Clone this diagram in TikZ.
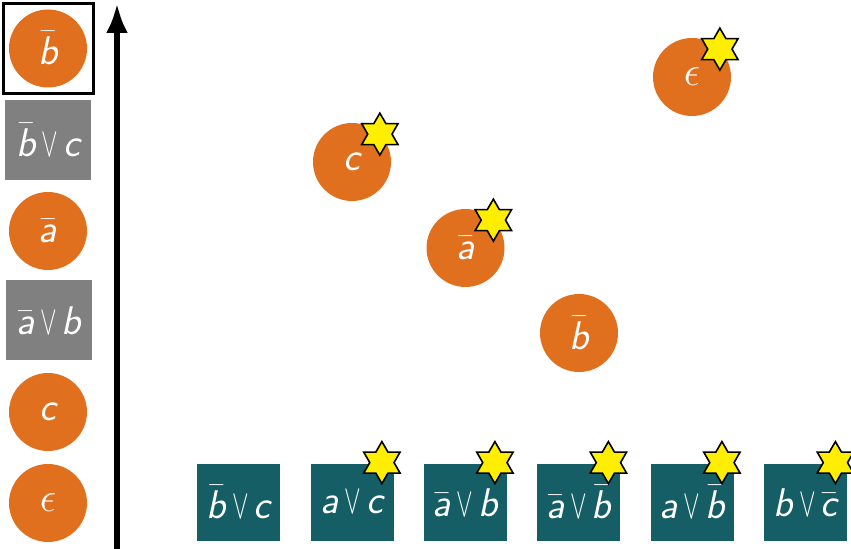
\documentclass[tikz,border=0pt]{standalone}
\usepackage{graphicx}
\usetikzlibrary{shapes.geometric,arrows.meta}
\definecolor{orng}{RGB}{224,112,30}
\definecolor{tealbox}{RGB}{22,94,102}
\definecolor{graybox}{RGB}{128,128,128}
\definecolor{staryel}{RGB}{255,238,0}
\newcommand\sv[1]{\mbox{\sffamily\slshape #1}}
\newcommand\orv{\mathord{\kern3pt\scalebox{0.6}[1]{$\vee$}\kern2.5pt}}
\tikzset{
  lbl/.style={text=white, font=\fontsize{20}{24}\selectfont},
  ball/.style={lbl, circle, fill=orng, minimum size=39pt, inner sep=0pt},
  gbox/.style={lbl, rectangle, fill=graybox, minimum width=43pt, minimum height=40pt, inner sep=0pt},
  tbox/.style={lbl, rectangle, fill=tealbox, minimum width=41.5pt, minimum height=38.5pt, inner sep=0pt},
  frame/.style={rectangle, draw=black, line width=1.5pt, minimum size=45.3pt, inner sep=0pt},
  starmark/.style={star, star points=6, star point ratio=1.73, fill=staryel, draw=black, line width=0.8pt, minimum size=21pt, inner sep=0pt},
  axisarrow/.style={line width=3pt, -{Latex[length=15pt,width=11pt]}}
}
\begin{document}
\begin{tikzpicture}[x=0.5pt,y=-0.5pt]
\useasboundingbox (0,0) rectangle (851,549);
% left column
\node[ball] (lb) at (48,48.5) {$\bar{\sv{b}}$};
\node[frame] (fr) at (48.5,48.5) {};
\node[gbox] (lg1) at (48,140) {$\bar{\sv{b}}\orv\sv{c}$};
\node[ball] (la) at (48,231) {$\bar{\sv{a}}$};
\node[gbox] (lg2) at (48.5,320.5) {$\bar{\sv{a}}\orv\sv{b}$};
\node[ball] (lc) at (48,412) {$\sv{c}$};
\node[ball] (le) at (48,503) {$\epsilon$};
% axis
\coordinate (abot) at (117,549);
\coordinate (atop) at (117,3);
\draw[axisarrow] (abot) -- (atop);
% main circles
\node[ball] (mc) at (352,162) {$\sv{c}$};
\node[ball] (ma) at (465.5,248) {$\bar{\sv{a}}$};
\node[ball] (mb) at (579,333) {$\bar{\sv{b}}$};
\node[ball] (me) at (692,77) {$\epsilon$};
% bottom boxes
\node[tbox] (b1) at (238.5,502.5) {$\bar{\sv{b}}\orv\sv{c}$};
\node[tbox] (b2) at (352,502.5) {$\sv{a}\orv\sv{c}$};
\node[tbox] (b3) at (465,502.5) {$\bar{\sv{a}}\orv\sv{b}$};
\node[tbox] (b4) at (578.5,502.5) {$\bar{\sv{a}}\orv\bar{\sv{b}}$};
\node[tbox] (b5) at (692,502.5) {$\sv{a}\orv\bar{\sv{b}}$};
\node[tbox] (b6) at (805.5,502.5) {$\sv{b}\orv\bar{\sv{c}}$};
% stars
\node[starmark] (sc) at (mc.north east) {};
\node[starmark] (sa) at (ma.north east) {};
\node[starmark] (se) at (me.north east) {};
\foreach \b in {b2,b3,b4,b5,b6}{
  \node[starmark, xshift=-6pt, yshift=0.5pt] (s\b) at (\b.north east) {};
}
\end{tikzpicture}
\end{document}
